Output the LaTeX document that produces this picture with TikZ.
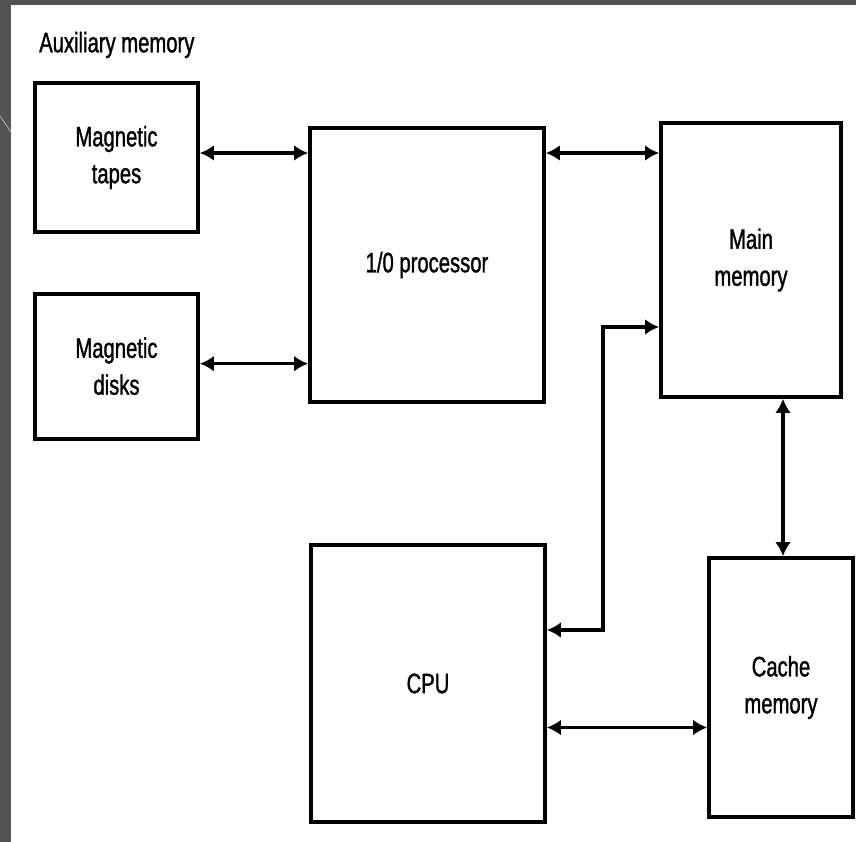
\documentclass[tikz,border=0pt]{standalone}
\usepackage{fontspec}
\setmainfont[FakeStretch=0.72,FakeBold=1.2]{Liberation Sans}
\usepackage{xcolor}
\usetikzlibrary{arrows.meta,positioning}
\definecolor{framegray}{HTML}{525252}

\begin{document}
\begin{tikzpicture}[
    node distance=1.16cm,
    unit/.style={draw, line width=2.1pt, align=center, inner sep=0pt,
                 font=\fontsize{16}{21}\selectfont},
    link/.style={line width=2pt, {Latex[length=8pt,width=9pt]}-{Latex[length=8pt,width=9pt]}}
]
\useasboundingbox (0,0) rectangle (17.12,-16.84);

% Slide frame
\fill[framegray] (0,0) rectangle (17.12,-0.1);
\fill[framegray] (0,0) rectangle (0.22,-16.84);
\draw[gray!60, line width=0.5pt] (0,-2.32) -- (0.22,-2.64);

\node[anchor=west, font=\fontsize{16}{20}\selectfont] (auxlabel) at (0.66,-0.9) {Auxiliary memory};

\node[unit, minimum width=3.26cm, minimum height=2.98cm] (tapes) at (2.33,-3.15) {Magnetic\\tapes};
\node[unit, minimum width=3.26cm, minimum height=2.9cm, below=of tapes] (disks) {Magnetic\\disks};
\node[unit, minimum width=4.68cm, minimum height=5.48cm] (iop) at (8.54,-5.3) {1/0 processor};
\node[unit, minimum width=3.6cm, minimum height=5.48cm] (main) at (15.02,-5.2) {Main\\memory};
\node[unit, minimum width=4.68cm, minimum height=5.54cm] (cpu) at (8.56,-13.67) {CPU};
\node[unit, minimum width=2.88cm, minimum height=5.18cm] (cache) at (15.62,-13.75) {Cache\\memory};

% Auxiliary memory to I/O
\draw[link] ([yshift=0.09cm]tapes.east) -- ([yshift=0.09cm]tapes.east -| iop.west);
\draw[link] ([yshift=0.05cm]disks.east) -- ([yshift=0.05cm]disks.east -| iop.west);
\draw[link] ([yshift=0.09cm]iop.east |- tapes.east) -- ([yshift=0.09cm]main.west |- tapes.east);

% Memory paths
\draw[link] ([yshift=1.07cm]cpu.east) -- ++(1.12,0) |- ([yshift=-1.34cm]main.west);
\draw[link] ([xshift=0.04cm]main.south -| cache.north) -- ([xshift=0.04cm]cache.north);
\draw[link] ([yshift=-0.88cm]cpu.east) -- ([yshift=-0.88cm]cpu.east -| cache.west);

\end{tikzpicture}
\end{document}
